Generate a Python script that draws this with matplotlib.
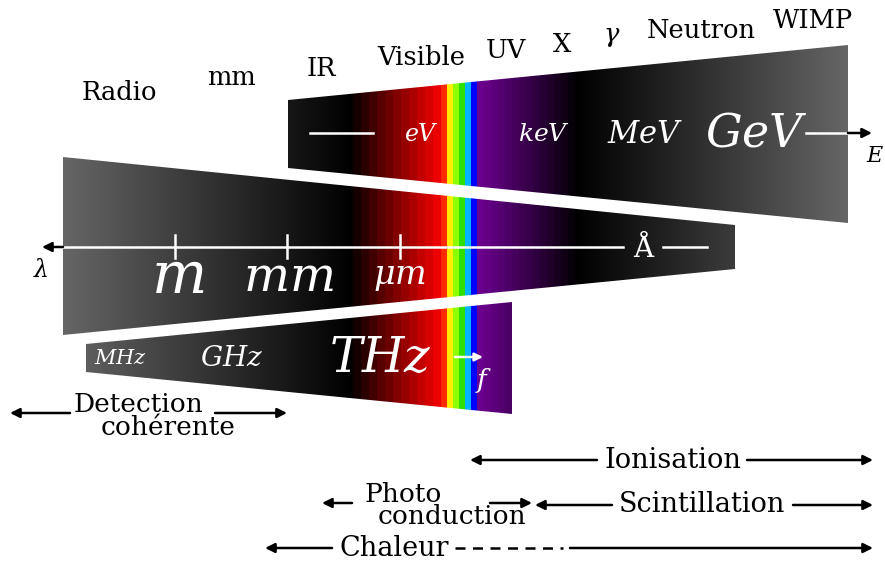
import numpy as np
import matplotlib
matplotlib.use("Agg")
import matplotlib.pyplot as plt
from matplotlib.patches import Polygon

plt.rcParams['font.family'] = ['DejaVu Serif']
plt.rcParams['mathtext.fontset'] = 'dejavuserif'

# trapezoid bands (pixel coords): left x, right x, left top/bottom, right top/bottom
band_energy = [(288, 100), (848, 45), (848, 223), (288, 168)]
band_wavelength = [(63, 157), (735, 225), (735, 269), (63, 335)]
band_frequency = [(86, 344), (512, 302), (512, 414), (86, 372)]

# visible spectrum stripes: start x and colour
spectrum_x = [441, 447, 453, 459, 465, 471, 477]
spectrum_colors = ['#ff2a00', '#ffee00', '#8cff00', '#2ee000', '#00b4ff', '#0000ff']

# labels above the bands
top_labels = ['Radio', 'mm', 'IR', 'Visible', 'UV', 'X', r'$\gamma$', 'Neutron', 'WIMP']
top_label_x = [119, 232, 321, 421, 506, 562, 612, 701, 813]
top_label_y = [92, 77, 68, 57, 50, 44, 36, 30, 20]

# unit labels inside the bands
energy_units = [r'$eV$', r'$keV$', r'$MeV$', r'$GeV$']
energy_unit_x = [422, 544, 645, 756]
energy_unit_size = [17, 18, 22, 33]

length_units = [r'$m$', r'$mm$', r'$\mu m$']
length_unit_x = [178, 288, 400]
length_unit_size = [42, 35, 24]
tick_x = [175, 287, 400]

freq_units = [r'$MHz$', r'$GHz$', r'$THz$']
freq_unit_x = [120, 232, 380]
freq_unit_size = [15, 20, 35]


def column_color(x):
    if x < 353:
        g = 0.4 * (353 - x) / 290
        return (g, g, g)
    if x < 441:
        step = np.floor((x - 353) / 8 + 1) / 11
        return (0.93 * step, 0, 0)
    if x < 477:
        k = np.searchsorted(spectrum_x, x, side='right') - 1
        return matplotlib.colors.to_rgb(spectrum_colors[k])
    if x < 575:
        step = 1 - np.floor((x - 477) / 7) / 14
        return (0.42 * step, 0, 0.56 * step)
    g = 0.4 * (x - 575) / 273
    return (g, g, g)


cols = np.arange(0, 886)
rgb = np.array([column_color(x) for x in cols])[None, :, :]

fig = plt.figure(figsize=(8.85, 5.61), dpi=100)
ax = fig.add_axes([0, 0, 1, 1])

for band in [band_energy, band_wavelength, band_frequency]:
    ys = [p[1] for p in band]
    poly = Polygon(band, closed=True, facecolor='none', edgecolor='none')
    ax.add_patch(poly)
    im = ax.imshow(rgb, extent=(0, 886, max(ys), min(ys)), aspect='auto',
                   interpolation='nearest')
    im.set_clip_path(poly)

ax.set_xlim(0, 885)
ax.set_ylim(561, 0)
ax.axis('off')


def arrow(x0, x1, y, color='black', lw=1.8, ms=14):
    ax.annotate('', xy=(x1, y), xytext=(x0, y),
                arrowprops=dict(arrowstyle='-|>', color=color, lw=lw,
                                mutation_scale=ms, shrinkA=0, shrinkB=0))


# top labels
for lab, x, y in zip(top_labels, top_label_x, top_label_y):
    ax.text(x, y, lab, ha='center', va='center', fontsize=18.5)

# energy band
ax.plot([310, 373], [133, 133], color='white', lw=1.8)
for lab, x, s in zip(energy_units, energy_unit_x, energy_unit_size):
    ax.text(x, 134, lab, ha='center', va='center', fontsize=s, color='white')
ax.plot([806, 848], [133, 133], color='white', lw=1.8)
arrow(848, 872, 133)
ax.text(875, 156, r'$E$', ha='center', va='center', fontsize=16)

# wavelength band
ax.plot([63, 623], [247, 247], color='white', lw=1.8)
arrow(63, 42, 247)
for x in tick_x:
    ax.plot([x, x], [235, 258], color='white', lw=1.8)
for lab, x, s in zip(length_units, length_unit_x, length_unit_size):
    ax.text(x, 277, lab, ha='center', va='center', fontsize=s, color='white')
ax.text(643, 249, 'Å', ha='center', va='center', fontsize=20, color='white')
ax.plot([663, 707], [247, 247], color='white', lw=1.8)
ax.text(41, 270, r'$\lambda$', ha='center', va='center', fontsize=17)

# frequency band
for lab, x, s in zip(freq_units, freq_unit_x, freq_unit_size):
    ax.text(x, 358, lab, ha='center', va='center', fontsize=s, color='white')
arrow(455, 483, 357, color='white', ms=12)
ax.text(484, 380, r'$f$', ha='center', va='center', fontsize=19, color='white')

# detection techniques
arrow(70, 10, 413)
arrow(215, 287, 413)
ax.text(138, 404, 'Detection', ha='center', va='center', fontsize=19)
ax.text(168, 427, 'cohérente', ha='center', va='center', fontsize=19)

arrow(597, 470, 460)
arrow(747, 873, 460)
ax.text(673, 460, 'Ionisation', ha='center', va='center', fontsize=19.5)

arrow(352, 322, 503)
arrow(490, 532, 503)
ax.text(403, 494, 'Photo', ha='center', va='center', fontsize=19)
ax.text(452, 516, 'conduction', ha='center', va='center', fontsize=19)

arrow(612, 535, 505)
arrow(793, 873, 505)
ax.text(702, 505, 'Scintillation', ha='center', va='center', fontsize=19.5)

arrow(332, 265, 548)
ax.plot([455, 563], [548, 548], color='black', lw=1.8, ls=(0, (4, 3)))
arrow(570, 873, 548)
ax.text(394, 548, 'Chaleur', ha='center', va='center', fontsize=19.5)

fig.savefig('out.png', dpi=100)
